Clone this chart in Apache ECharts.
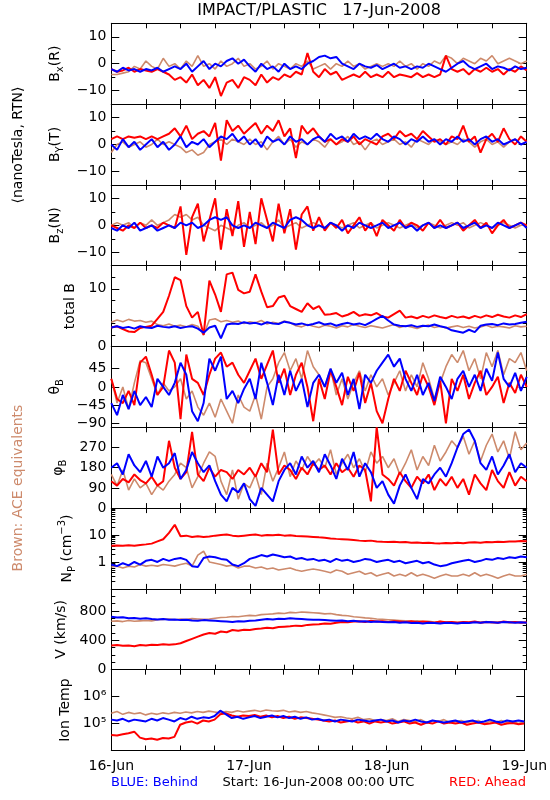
<!DOCTYPE html>
<html><head><meta charset="utf-8">
<script src="https://cdn.jsdelivr.net/npm/echarts@6/dist/echarts.min.js"></script>
<style>html,body{margin:0;padding:0;background:#fff}#c{width:550px;height:800px}</style>
</head><body><div id="c"></div>
<script>
// ---- hourly samples, 16-Jun-2008 00:00 .. 19-Jun-2008 00:00 (73 values each) ----
const dayLabels = ['16-Jun', '17-Jun', '18-Jun', '19-Jun'];
const dayHours = [0, 24, 48, 72];

// Bx (R)
const bxBehind = [-2,-3,-1.5,-2.5,-2,-3,-2,-2.5,-1.5,-3,-2,-1, -2,0,-3,-1,1,-2,0,-1,1,2,0,1.5, -1,-3,0,-2,-1,-3,0,-2,-1,-2,0,1, 2.5,3,2,2.5,0,-1,-2,0,-1,-1.5,-0.5,-2, -1,0,-1.5,-1,-2,-1,-1.5,0,-1,-2,-3,-1.5, 0,1,-1,-2,-1,0,-2,-1,-1.5,-2.5,-1,-2,-1.5];
const bxAhead = [-2,-3,-2.5,-1.5,-3,-2,-2.5,-3,-2,-3,-4,-6, -5,-7,-4,-8,-6,-9,-5,-12,-7,-6,-9,-5, -6,-8,-4,-7,-5,-6,-4,-5,-3,-4,4,-3, -5,-2,-4,-3,-6,-5,-4,-5,-3,-5,-4,-5, -3,-5,-4,-4.5,-5,-3.5,-5,-4,-5,-4,3,-2, -3,-2,-4,-2,-3,-1.5,-3,-2,-4,-2,-3,-1,-2.5];
const bxAce = [-4,-4,-3.5,-3,-1,-2,1,-1,-2,2,-1,0, -2,1,-1,3,-1,0,-2,1,-1,0,2,-1, 0,-2,-1,1,-2,0,-1,-2,0,-1,1,-2, -1,0,-2,0,-1,1,-1,0,-2,-1,0,-1, 0,-1,1,-1,0,-2,0,-1,1,0,3,2, 0,2,1,0,2,1,3,0,1,2,1,0,1];

// By (T)
const byBehind = [0,-2,2,-1,1,-2,0,2,-1,1,-2,0, 3,-1,1,0,2,-1,1,3,2,4,1,3, 0,2,-1,3,1,2,0,3,1,2,0,2, 3,1,4,2,3,1,4,2,3,2,4,2, 1,3,2,0,2,1,3,1,2,0,2,1, 3,1,2,0,2,3,1,2,0,1,2,0,1];
const byAhead = [2,3,2,3,2.5,3,2,3,2,3,4,6, 3,7,2,4,5,3,8,-6,9,5,7,4, 6,8,4,7,5,9,3,6,-5,7,4,6, 3,1,2,0,2,1,3,0,2,1,0,3, 4,2,5,3,4,2,5,3,1,2,0,3, 2,7,1,3,-3,2,4,1,6,2,0,3,1];
const byAce = [-3,0,1,-1,0,1,-1,0,2,0,1,0, -1,-3,-2,-4,-3,0,1,2,0,2,1,0, 2,0,1,-2,1,3,0,2,-1,1,0,2, 1,-1,2,0,1,3,0,1,-2,1,2,0, 1,2,0,1,-1,2,1,0,2,1,0,1, 0,2,1,-1,1,2,0,1,-1,1,2,0,1];

// Bz (N)
const bzBehind = [-1,-2,0,-1,1,-2,-1,0,-2,-1,0,-1, 1,0,1,-1,0,2,3,2,3,0,-1,0, -1,1,0,-1,1,0,-1,2,3,2,0,-1, 0,-1,1,0,-2,0,-1,1,0,-1,0,1, -1,0,1,-1,0,-2,0,1,-1,0,-1,0, 1,-1,0,1,-1,0,-1,1,0,-1,0,1,-1];
const bzAhead = [0,-1,-2,0,-1,1,-1,0,-1,1,0,-1, 7,-11,3,8,-6,2,10,-9,6,-4,9,-8, 5,-7,10,2,-6,8,-3,6,-9,4,7,-2, 3,-2,1,-1,2,-3,0,3,-2,1,-4,2, 0,-2,2,-1,1,0,-2,1,-1,2,-1,0, 1,-2,0,2,-1,1,-3,0,2,-1,0,1,0];
const bzAce = [0,1,0,1,-1,1,0,2,0,1,2,4, 3,4,2,3,0,-1,-2,0,-1,-2,0,1, -1,0,1,-1,0,2,-1,0,1,-1,0,1, 0,-1,1,0,-1,0,1,-1,0,1,-1,0, 1,0,-1,0,1,-1,0,1,0,-1,0,1, 0,1,-1,0,1,0,-1,0,1,0,-1,0,0];

// total B
const btBehind = [3.3,3.5,3.2,3.4,3.1,3.5,3.3,3.2,3.6,3.4,3.3,3.5, 3.2,3.4,3.5,3.1,2.4,3.3,3.6,1.4,3.8,4.0,3.9,4.2, 4.0,4.1,3.8,4.2,4.0,3.9,4.3,4.1,3.8,4.0,3.7,3.9, 4.2,3.8,4.0,3.6,3.9,4.1,3.8,4.0,3.7,4.2,4.8,5.3, 4.5,3.8,3.6,3.5,3.7,3.4,3.6,3.5,3.8,3.5,3.3,2.8, 2.6,2.4,2.9,2.5,3.6,3.8,3.9,3.7,4.0,3.8,3.9,4.1,4.3];
const btAhead = [3.3,3.5,3.0,2.6,2.5,3.2,3.4,3.6,4.8,6.0,8.8,12.0, 11.5,7.0,5.0,6.0,2.0,11.4,9.0,6.0,12.5,12.8,9.8,9.2, 9.5,12.5,9.5,6.8,7.0,8.5,8.8,7.0,6.5,6.0,7.5,6.5, 7.0,5.5,5.6,5.8,5.2,5.5,6.0,5.3,5.6,5.4,5.8,5.2, 5.0,5.6,6.2,5.0,5.2,4.9,5.3,5.0,5.4,5.1,4.9,5.3, 5.0,5.2,4.9,5.3,5.0,5.4,5.1,5.5,5.2,5.0,5.4,5.1,5.6];
const btAce = [4.2,4.6,4.3,4.7,4.4,4.5,4.2,4.4,3.8,3.6,3.9,3.5, 3.7,3.4,3.8,3.5,2.0,4.6,4.8,4.3,4.5,4.2,4.4,4.0, 4.3,4.1,4.5,3.9,4.2,4.0,4.4,4.1,3.6,3.4,3.8,3.5, 3.3,3.7,3.5,3.2,3.6,3.4,3.8,3.5,3.3,3.6,3.4,3.2, 3.5,3.8,3.3,3.6,3.4,3.1,3.5,3.7,3.3,3.5,3.2,3.4, 3.6,3.3,3.5,3.2,3.4,3.7,3.3,3.5,3.4,3.2,3.6,3.4,3.5];

// theta B
const thBehind = [-40,-70,-20,-55,-10,-45,-25,-50,20,0,-20,10, 60,30,-60,-85,-40,70,40,75,-30,-10,-40,-5, 20,-30,60,10,-45,30,-20,40,-10,20,-50,10, 30,0,45,10,35,-20,20,-55,30,10,40,60, 80,50,70,20,-10,30,-20,10,-35,25,0,-30, 20,40,0,30,-10,45,15,85,20,0,35,-10,25];
const thAhead = [20,-30,-40,-10,-45,60,75,30,-20,0,90,60, -80,80,20,10,-20,30,70,85,50,60,30,10, 40,70,20,55,90,10,45,-20,30,60,0,-85, 20,-30,40,0,-45,25,-10,35,-40,10,-60,-90, -30,20,-10,40,10,-20,30,0,-45,15,-90,20, -10,30,-30,10,40,-20,0,25,-40,10,-15,30,0];
const thAce = [20,-40,0,-55,10,65,60,20,-20,10,-10,0, 20,-30,-10,-50,-70,-40,-75,-30,-60,-90,-20,-50, -60,-20,-80,0,20,60,85,40,70,20,90,50, 30,0,45,-20,20,-30,10,40,-10,30,0,20, -20,10,40,-10,30,0,60,20,-30,10,50,80, 60,90,40,70,20,85,50,90,30,70,60,85,40];

// phi B
const phBehind = [180,200,150,240,190,160,210,140,230,180,200,245, 130,170,250,200,160,190,120,60,30,90,70,110, 40,10,90,60,30,120,170,200,150,230,180,210, 160,240,190,130,220,170,250,140,200,160,90,120, 60,20,100,150,90,40,130,110,150,180,140,200, 270,330,350,300,200,170,230,150,190,240,160,200,180];
const phAhead = [120,100,130,115,150,125,110,140,100,120,300,180, 130,160,340,150,120,180,140,170,160,130,170,150, 180,140,200,160,350,150,190,170,130,180,150,200, 170,190,150,200,160,180,140,190,170,30,360,150, 130,100,160,120,90,140,110,150,80,130,100,140, 90,130,60,150,110,80,170,120,90,160,100,140,120];
const phAce = [150,100,170,80,130,90,110,60,100,80,120,150, 200,180,90,140,200,250,230,120,60,170,40,110, 90,150,60,200,120,180,250,140,210,170,230,190, 220,180,260,150,200,240,180,220,160,250,200,230, 180,220,150,200,260,170,230,190,280,210,250,300, 270,320,240,300,210,280,330,250,300,220,340,260,290];

// Np (cm^-3)
const npBehind = [0.8,0.7,0.9,0.75,1.0,0.8,1.1,1.2,1.0,1.3,1.1,1.3, 1.4,1.2,0.7,0.65,1.4,1.6,1.5,1.3,1.2,0.8,0.7,0.9, 1.3,1.5,1.8,1.6,1.9,1.7,1.5,1.6,1.3,1.4,1.2,1.3, 1.1,1.2,1.0,1.3,1.1,1.2,1.0,1.1,1.3,1.2,1.0,1.1, 1.2,1.0,1.1,0.9,1.0,1.1,0.9,1.0,0.8,0.7,0.75,0.9, 1.0,1.1,1.2,1.0,1.1,1.3,1.2,1.4,1.3,1.5,1.4,1.6,1.5];
const npAhead = [4.0,4.1,4.0,4.2,4.0,4.3,4.5,4.8,5.8,7.0,12,24, 9,9.5,8.5,9,8.5,8.8,9.5,10,10.5,9.5,9,9.5, 10,10.5,9.5,10,9.8,10.2,9.5,9.8,9.2,9,8.8,8.5, 8.2,8,7.5,7.2,7,6.8,6.5,6.2,6,6.2,5.8,5.6, 5.5,5.6,5.4,5.5,5.2,5.3,5.1,5.2,5.0,4.9,5.1,5.0, 5.2,5.0,5.3,5.4,5.2,5.5,5.4,5.6,5.5,5.8,5.7,6.0,5.9];
const npAce = [0.65,0.7,0.6,0.7,0.65,0.8,0.7,0.75,0.7,0.8,0.75,0.7, 0.8,0.9,0.7,1.8,2.5,1.0,0.9,0.8,0.7,0.75,0.6,0.7, 0.7,0.6,0.65,0.55,0.6,0.5,0.55,0.6,0.5,0.45,0.5,0.55, 0.5,0.45,0.4,0.5,0.45,0.35,0.4,0.45,0.35,0.4,0.3,0.35, 0.4,0.3,0.35,0.3,0.4,0.3,0.35,0.3,0.25,0.3,0.35,0.3, 0.3,0.35,0.3,0.4,0.3,0.35,0.3,0.25,0.3,0.35,0.3,0.3,0.35];

// V (km/s)
const vBehind = [720,710,715,700,705,695,700,690,685,690,680,685, 675,680,670,665,675,670,665,660,655,650,660,655, 665,670,680,690,685,695,690,700,695,690,685,680, 680,675,670,665,670,660,665,655,660,650,655,650, 645,650,640,645,635,640,630,640,635,630,640,635, 630,640,635,645,640,650,645,640,650,645,640,645,640];
const vAhead = [330,335,325,330,320,335,330,340,335,345,340,345, 360,390,420,450,480,500,490,520,510,540,530,545, 540,555,560,570,565,580,585,590,600,595,610,615, 620,630,625,640,650,645,655,660,650,665,655,660, 650,660,655,650,660,645,655,650,640,655,645,650, 640,650,645,655,640,650,645,640,655,645,650,640,645];
const vAce = [660,665,655,670,660,665,670,665,680,685,690,680, 690,685,695,690,685,690,700,710,715,725,720,730, 740,735,750,755,760,770,765,780,775,785,780,775, 770,760,765,750,740,735,720,715,705,700,690,685, 680,675,670,665,660,665,655,660,650,655,645,650, 645,650,640,650,645,655,640,650,645,640,650,645,640];

// Ion temperature (K)
const tBehind = [1.4e5,1.3e5,1.5e5,1.2e5,1.4e5,1.3e5,1.2e5,1.5e5,1.3e5,1.6e5,1.4e5,1.2e5, 1.6e5,1.4e5,1.8e5,1.5e5,1.7e5,1.6e5,1.9e5,3.0e5,2.2e5,1.6e5,1.8e5,1.5e5, 1.7e5,1.9e5,1.6e5,1.8e5,2.0e5,1.7e5,1.9e5,1.6e5,1.8e5,1.5e5,1.7e5,1.4e5, 1.5e5,1.3e5,1.4e5,1.2e5,1.4e5,1.3e5,1.2e5,1.4e5,1.3e5,1.2e5,1.3e5,1.4e5, 1.2e5,1.3e5,1.1e5,1.3e5,1.2e5,1.4e5,1.2e5,1.1e5,1.3e5,1.2e5,1.1e5,1.2e5, 1.3e5,1.1e5,1.2e5,1.3e5,1.1e5,1.2e5,1.4e5,1.2e5,1.1e5,1.3e5,1.2e5,1.3e5,1.2e5];
const tAhead = [3.8e4,3.6e4,4.0e4,4.4e4,5.0e4,3.0e4,2.6e4,2.8e4,2.5e4,2.9e4,2.8e4,3.2e4, 9e4,1.1e5,1.2e5,1.0e5,1.3e5,1.2e5,1.4e5,2.2e5,2.4e5,2.0e5,1.8e5,2.0e5, 1.9e5,2.1e5,1.8e5,2.0e5,1.7e5,1.9e5,1.6e5,1.8e5,1.5e5,1.7e5,1.6e5,1.5e5, 1.4e5,1.3e5,1.2e5,1.3e5,1.1e5,1.2e5,1.3e5,1.1e5,1.2e5,1.0e5,1.2e5,1.1e5, 1.2e5,1.0e5,1.1e5,1.2e5,1.0e5,1.1e5,0.9e5,1.1e5,1.0e5,1.2e5,1.0e5,1.1e5, 1.0e5,1.1e5,0.9e5,1.0e5,1.1e5,0.95e5,1.0e5,1.1e5,0.9e5,1.0e5,1.05e5,0.95e5,1.0e5];
const tAce = [2.4e5,2.8e5,2.2e5,2.6e5,2.3e5,2.5e5,2.1e5,2.4e5,2.2e5,2.5e5,2.3e5,2.6e5, 2.4e5,2.7e5,2.5e5,2.8e5,2.6e5,2.9e5,2.7e5,2.5e5,2.8e5,2.6e5,3.0e5,2.7e5, 2.9e5,3.1e5,2.8e5,3.2e5,3.0e5,2.9e5,3.1e5,2.7e5,2.9e5,2.6e5,2.8e5,2.5e5, 2.3e5,2.1e5,1.9e5,1.7e5,1.8e5,1.6e5,1.5e5,1.7e5,1.4e5,1.5e5,1.3e5,1.4e5, 1.3e5,1.5e5,1.2e5,1.4e5,1.3e5,1.2e5,1.4e5,1.1e5,1.3e5,1.2e5,1.4e5,1.1e5, 1.2e5,1.3e5,1.1e5,1.2e5,1.3e5,1.0e5,1.2e5,1.1e5,1.3e5,1.1e5,1.2e5,1.0e5,1.2e5];

// ---- tick label values ----
const bTicks = [-10, 0, 10];
const btTicks = [0, 10];
const thTicks = [-90, -45, 0, 45];
const phTicks = [0, 90, 180, 270];
const npTicks = [1, 10];
const vTicks = [0, 400, 800];
const tTicks = [1e5, 1e6];

// ---------------- layout / style ----------------
const FONT = 'DejaVu Sans';
const RED = '#ff0000', BLUE = '#0000ff', BROWN = '#cd8a6c';
const L = 111.3, R = 526.7, T0 = 23.3, PH = 80.8;
const minus = v => String(v).replace('-', '\u2212');

const rich = {
  m: { fontSize: 14, fontFamily: FONT, lineHeight: 20, color: '#000' },
  s: { fontSize: 10, fontFamily: FONT, lineHeight: 10, verticalAlign: 'bottom', color: '#000' },
  p: { fontSize: 10, fontFamily: FONT, lineHeight: 10, verticalAlign: 'top', color: '#000' }
};

const panels = [
  { name: '{m|B}{s|x}{m|(R)}', gap: 41, type: 'value', min: -15, max: 15, majors: bTicks, minors: [-5, 5], fmt: minus, data: [bxAce, bxAhead, bxBehind] },
  { name: '{m|B}{s|Y}{m|(T)}', gap: 41, type: 'value', min: -15, max: 15, majors: bTicks, minors: [-5, 5], fmt: minus, data: [byAce, byAhead, byBehind] },
  { name: '{m|B}{s|z}{m|(N)}', gap: 41, type: 'value', min: -15, max: 15, majors: bTicks, minors: [-5, 5], fmt: minus, data: [bzAce, bzAhead, bzBehind] },
  { name: '{m|total B}', gap: 31, type: 'value', min: 0, max: 14, majors: btTicks, minors: [2, 4, 6, 8, 12], fmt: minus, data: [btAce, btAhead, btBehind] },
  { name: '{m|θ}{s|B}', gap: 40, type: 'value', min: -100, max: 100, majors: thTicks, minors: [], fmt: minus, data: [thAce, thAhead, thBehind] },
  { name: '{m|φ}{s|B}', gap: 39, type: 'value', min: 0, max: 360, majors: phTicks, minors: [], fmt: minus, data: [phAce, phAhead, phBehind] },
  { name: '{m|N}{s|P}{m| (cm}{p|−3}{m|)}', gap: 29, type: 'log', min: 0.1, max: 100, majors: npTicks,
    minors: [0.2,0.3,0.4,0.5,0.6,0.7,0.8,0.9,2,3,4,5,6,7,8,9,20,30,40,50,60,70,80,90], fmt: v => String(Math.round(v)), data: [npAce, npAhead, npBehind] },
  { name: '{m|V (km/s)}', gap: 38, type: 'value', min: 0, max: 1100, majors: vTicks, minors: [100,200,300,500,600,700,900,1000], fmt: minus, data: [vAce, vAhead, vBehind] },
  { name: '{m|Ion Temp}', gap: 36, type: 'log', min: 1e4, max: 1e7, majors: tTicks, minors: [],
    fmt: v => (Math.round(Math.log10(v)) === 5 ? '10\u2075' : '10\u2076'), data: [tAce, tAhead, tBehind] }
];

const grid = [], xAxis = [], yAxis = [], series = [];
const axLine = { show: true, onZero: false, lineStyle: { color: '#000', width: 1 } };
panels.forEach((p, i) => {
  grid.push({ left: L, top: T0 + PH * i, width: R - L, height: PH });
  ['bottom', 'top'].forEach(pos => {
    xAxis.push({
      gridIndex: i, type: 'value', min: 0, max: 72, interval: 6, position: pos,
      axisLine: axLine,
      axisTick: { inside: true, length: 5, lineStyle: { color: '#000' } },
      axisLabel: (pos === 'bottom' && i === panels.length - 1) ? {
        show: true, customValues: dayHours, formatter: v => dayLabels[dayHours.indexOf(Math.round(v))],
        color: '#000', fontFamily: FONT, fontSize: 14, margin: 9
      } : { show: false },
      splitLine: { show: false }
    });
  });
  const mainIdx = yAxis.length;
  ['left', 'right'].forEach(pos => {
    yAxis.push({
      gridIndex: i, type: p.type, min: p.min, max: p.max, position: pos,
      axisLine: axLine,
      axisTick: { inside: true, length: 8, customValues: p.majors, lineStyle: { color: '#000' } },
      axisLabel: pos === 'left' ? { show: true, customValues: p.majors, formatter: p.fmt, color: '#000', fontFamily: FONT, fontSize: 14, margin: 5 } : { show: false },
      splitLine: { show: false },
      name: pos === 'left' ? p.name : '', nameLocation: 'middle', nameRotate: 90, nameGap: p.gap,
      nameTextStyle: { rich: rich, fontFamily: FONT, fontSize: 14, color: '#000' }
    });
    if (p.minors.length) {
      yAxis.push({
        gridIndex: i, type: p.type, min: p.min, max: p.max, position: pos,
        axisLine: { show: false, onZero: false },
        axisTick: { inside: true, length: 4, customValues: p.minors, lineStyle: { color: '#000' } },
        axisLabel: { show: false }, splitLine: { show: false }
      });
    }
  });
  [BROWN, RED, BLUE].forEach((col, k) => {
    series.push({
      type: 'line', xAxisIndex: 2 * i, yAxisIndex: mainIdx,
      data: p.data[k].map((v, h) => [h, v]),
      showSymbol: false, symbol: 'none', silent: true,
      lineStyle: { color: col, width: k === 0 ? 1.6 : 2 }, z: 2 + k
    });
  });
});

const graphic = [
  { type: 'text', x: 319, y: 11, style: { text: 'IMPACT/PLASTIC   17-Jun-2008', font: '16px "DejaVu Sans"', fill: '#000', align: 'center', verticalAlign: 'middle' } },
  { type: 'text', x: 18, y: 145, rotation: Math.PI / 2, style: { text: '\u27E8nanoTesla, RTN\u27E9', font: '14px "DejaVu Sans"', fill: '#000', align: 'center', verticalAlign: 'middle' } },
  { type: 'text', x: 18, y: 488, rotation: Math.PI / 2, style: { text: 'Brown: ACE equivalents', font: '14px "DejaVu Sans"', fill: BROWN, align: 'center', verticalAlign: 'middle' } },
  { type: 'text', x: 111, y: 783, style: { text: 'BLUE: Behind', font: '13px "DejaVu Sans"', fill: BLUE, align: 'left', verticalAlign: 'middle' } },
  { type: 'text', x: 318.5, y: 783, style: { text: 'Start: 16-Jun-2008 00:00 UTC', font: '13px "DejaVu Sans"', fill: '#000', align: 'center', verticalAlign: 'middle' } },
  { type: 'text', x: 526, y: 783, style: { text: 'RED: Ahead', font: '13px "DejaVu Sans"', fill: RED, align: 'right', verticalAlign: 'middle' } }
];

const chart = echarts.init(document.getElementById('c'), null, { renderer: 'canvas' });
chart.setOption({ animation: false, backgroundColor: '#fff', grid, xAxis, yAxis, series, graphic });
</script>
</body></html>
